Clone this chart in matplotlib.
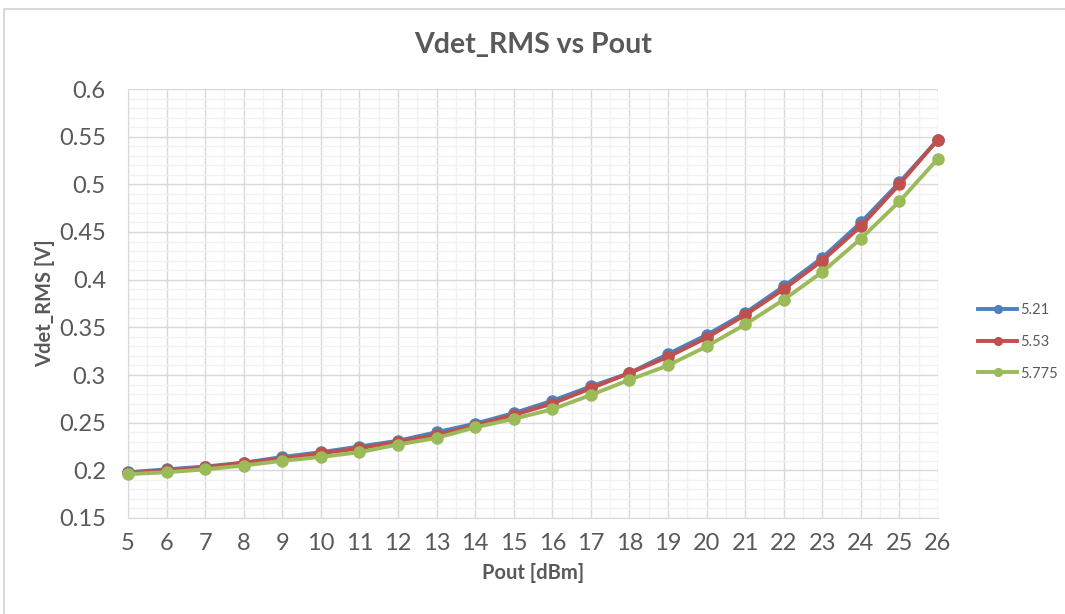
import numpy as np
import matplotlib
matplotlib.use("Agg")
from matplotlib import pyplot as plt
from matplotlib.ticker import MultipleLocator
from matplotlib.patches import Rectangle

pout = [5, 6, 7, 8, 9, 10, 11, 12, 13, 14, 15, 16, 17, 18, 19, 20, 21, 22, 23, 24, 25, 26]
series_names = ["5.21", "5.53", "5.775"]
v_521 = [0.198, 0.201, 0.204, 0.208, 0.214, 0.219, 0.225, 0.231, 0.240, 0.249, 0.260, 0.273,
         0.288, 0.302, 0.322, 0.342, 0.365, 0.393, 0.423, 0.460, 0.502, 0.547]
v_553 = [0.197, 0.200, 0.203, 0.208, 0.212, 0.218, 0.223, 0.230, 0.237, 0.247, 0.258, 0.270,
         0.286, 0.302, 0.319, 0.339, 0.363, 0.390, 0.420, 0.456, 0.500, 0.547]
v_5775 = [0.196, 0.198, 0.201, 0.205, 0.210, 0.214, 0.219, 0.227, 0.234, 0.245, 0.254, 0.264,
          0.279, 0.295, 0.310, 0.330, 0.353, 0.379, 0.408, 0.443, 0.482, 0.527]
colors = ["#4F81BD", "#C0504D", "#9BBB59"]

TEXT = "#595959"
plt.rcParams['font.family'] = ['Lato', 'DejaVu Sans']


def main():
    fig = plt.figure(figsize=(10.65, 6.14), dpi=100)
    W, H = 1065, 614

    # chart area border (only left/top visible)
    fig.patches.append(Rectangle((4 / W, -0.1), 1.2, 1 - 9 / H + 0.1, transform=fig.transFigure,
                                 facecolor='none', edgecolor='#d9d9d9', lw=1.5))

    ax = fig.add_axes([128 / W, 1 - 518 / H, 810 / W, 429 / H])

    for vals, name, c in zip([v_521, v_553, v_5775], series_names, colors):
        ax.plot(pout, vals, color=c, lw=2.8, marker='o', ms=8, label=name, zorder=3,
                clip_on=False)

    ax.set_xlim(5, 26)
    ax.set_ylim(0.15, 0.6)
    ax.xaxis.set_major_locator(MultipleLocator(1))
    ax.xaxis.set_minor_locator(MultipleLocator(0.5))
    ax.yaxis.set_major_locator(MultipleLocator(0.05))
    ax.yaxis.set_minor_locator(MultipleLocator(0.01))
    ax.yaxis.set_major_formatter(plt.FuncFormatter(lambda v, p: ('%.2f' % v).rstrip('0').rstrip('.')))

    ax.grid(which='major', color='#d9d9d9', lw=1.0, zorder=0)
    ax.grid(which='minor', color='#f2f2f2', lw=1.0, zorder=0)
    ax.set_axisbelow(True)
    for s in ['top', 'right']:
        ax.spines[s].set_visible(False)
    ax.spines['left'].set_color('#d9d9d9')
    ax.spines['bottom'].set_color('#d9d9d9')
    ax.tick_params(which='both', length=0, colors=TEXT, labelsize=17)
    ax.tick_params(axis='x', pad=11)
    ax.tick_params(axis='y', pad=16)

    ax.set_title("Vdet_RMS vs Pout", fontsize=20.5, fontweight='bold', color=TEXT, pad=26)
    ax.set_xlabel("Pout [dBm]", fontsize=14.5, fontweight='bold', color=TEXT, labelpad=6)
    ax.set_ylabel("Vdet_RMS [V]", fontsize=14.5, fontweight='bold', color=TEXT, labelpad=3)

    leg = fig.legend(loc='center left', bbox_to_anchor=(978 / W, 1 - 342 / H), frameon=False,
                     fontsize=10.5, handlelength=2.7, handletextpad=0.2, labelspacing=1.2,
                     markerscale=0.7, borderaxespad=0, borderpad=0)
    for t in leg.get_texts():
        t.set_color(TEXT)

    plt.savefig("out.png", dpi=100)


if __name__ == '__main__':
    main()
